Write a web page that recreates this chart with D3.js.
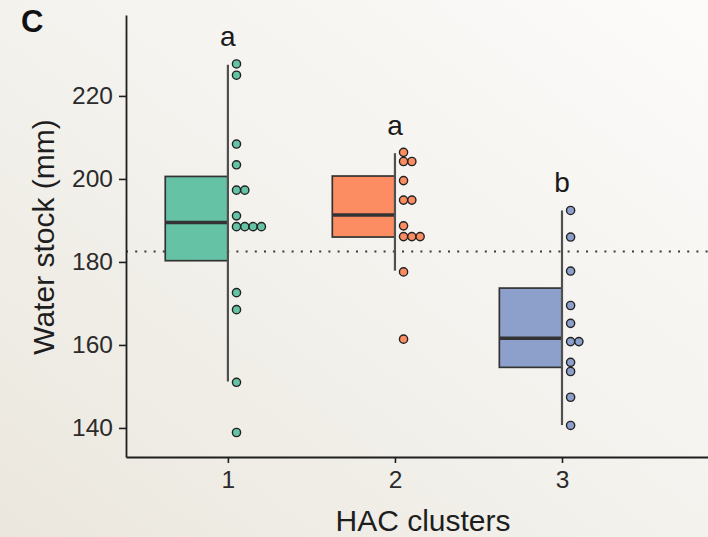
<!DOCTYPE html>
<html>
<head>
<meta charset="utf-8">
<script src="https://cdn.jsdelivr.net/npm/d3@7"></script>
<style>
  html, body { margin: 0; padding: 0; }
  body { width: 708px; height: 537px; overflow: hidden; }
  text { font-family: "Liberation Sans", Arial, Helvetica, sans-serif; }
</style>
</head>
<body>
<script>
// ---- data ----
const clusters = [1, 2, 3];
const clusterColors = ["#66c2a5", "#fc8d62", "#8da0cb"];
const q1 = [180.3, 186.0, 154.6];
const medians = [189.5, 191.3, 161.6];
const q3 = [200.6, 200.7, 173.7];
const whiskerLow = [151.2, 177.9, 140.7];
const whiskerHigh = [227.5, 206.2, 192.4];
const groupLetters = ["a", "a", "b"];
const referenceLine = 182.5;
const dots1 = [227.7, 225.0, 208.4, 203.4, 197.3, 197.3, 191.1, 188.5, 188.5, 188.5, 188.5, 172.6, 168.5, 151.0, 138.9];
const dots2 = [206.4, 204.2, 204.2, 199.6, 194.9, 194.9, 188.7, 186.1, 186.1, 186.1, 177.6, 161.4];
const dots3 = [192.4, 186.0, 177.8, 169.5, 165.2, 160.8, 160.8, 155.8, 153.6, 147.4, 140.6];
const yTicks = [140, 160, 180, 200, 220];
const xTicks = [1, 2, 3];
const dotsByCluster = [dots1, dots2, dots3];

const W = 708, H = 537;
const svg = d3.select("body").append("svg").attr("width", W).attr("height", H);

// background
const defs = svg.append("defs");
const grad = defs.append("linearGradient").attr("id", "bg")
  .attr("x1", "100%").attr("y1", "0%").attr("x2", "0%").attr("y2", "100%");
grad.append("stop").attr("offset", "0%").attr("stop-color", "#fcfbfa");
grad.append("stop").attr("offset", "55%").attr("stop-color", "#f3f1ec");
grad.append("stop").attr("offset", "100%").attr("stop-color", "#ebe7de");
svg.append("rect").attr("width", W).attr("height", H).attr("fill", "url(#bg)");

const x = d3.scaleLinear().domain([0.39, 3.874]).range([126, 708]);
const y = d3.scaleLinear().domain([133.0, 239.5]).range([457, 15]);

const boxW = 0.375; // in x units

// reference dotted line
svg.append("line")
  .attr("x1", x(0.39)).attr("x2", 708)
  .attr("y1", y(referenceLine)).attr("y2", y(referenceLine))
  .attr("stroke", "#3a3a3a").attr("stroke-width", 2)
  .attr("stroke-dasharray", "2 7.2");

const g = svg.append("g");
clusters.forEach((c, i) => {
  const cx = x(c);
  g.append("rect")
    .attr("x", x(c - boxW)).attr("width", cx - x(c - boxW))
    .attr("y", y(q3[i])).attr("height", y(q1[i]) - y(q3[i]))
    .attr("fill", clusterColors[i]).attr("stroke", "#333").attr("stroke-width", 1.7);
  g.append("line")
    .attr("x1", x(c - boxW)).attr("x2", cx)
    .attr("y1", y(medians[i])).attr("y2", y(medians[i]))
    .attr("stroke", "#333").attr("stroke-width", 3.4);
  g.append("line")
    .attr("x1", cx).attr("x2", cx)
    .attr("y1", y(whiskerLow[i])).attr("y2", y(whiskerHigh[i]))
    .attr("stroke", "#505050").attr("stroke-width", 2.2);
  g.append("text")
    .attr("x", cx).attr("y", y(whiskerHigh[i]) - 18.5)
    .attr("text-anchor", "middle").attr("font-size", 28).attr("fill", "#1a1a1a")
    .text(groupLetters[i]);
  const counts = {};
  dotsByCluster[i].forEach(v => {
    const k = counts[v] || 0;
    counts[v] = k + 1;
    g.append("circle")
      .attr("cx", cx + 8.6 + k * 8.3).attr("cy", y(v)).attr("r", 4.1)
      .attr("fill", clusterColors[i]).attr("stroke", "#222").attr("stroke-width", 1.4);
  });
});

// axes
const yAxis = svg.append("g").attr("transform", `translate(${x(0.39)},0)`)
  .call(d3.axisLeft(y).tickValues(yTicks).tickSize(7).tickPadding(6).tickSizeOuter(0));
const xAxis = svg.append("g").attr("transform", `translate(0,${y(133.0)})`)
  .call(d3.axisBottom(x).tickValues(xTicks).tickSize(6).tickPadding(8).tickSizeOuter(0).tickFormat(d3.format("d")));
[yAxis, xAxis].forEach(a => {
  a.select(".domain").attr("stroke", "#1e1e1e").attr("stroke-width", 1.8);
  a.selectAll(".tick line").attr("stroke", "#1e1e1e").attr("stroke-width", 1.6);
  a.selectAll(".tick text").attr("font-size", 24.5).attr("fill", "#2b2b2b")
    .attr("font-family", "'Liberation Sans', Arial, sans-serif");
});

// titles
svg.append("text")
  .attr("transform", `translate(54,237) rotate(-90)`)
  .attr("text-anchor", "middle").attr("font-size", 30).attr("fill", "#1e1e1e")
  .text("Water stock (mm)");
svg.append("text")
  .attr("x", 423).attr("y", 531)
  .attr("text-anchor", "middle").attr("font-size", 30).attr("fill", "#1e1e1e")
  .text("HAC clusters");
svg.append("text")
  .attr("x", 21).attr("y", 32)
  .attr("font-size", 31).attr("font-weight", "bold").attr("fill", "#111")
  .text("C");
</script>
</body>
</html>
